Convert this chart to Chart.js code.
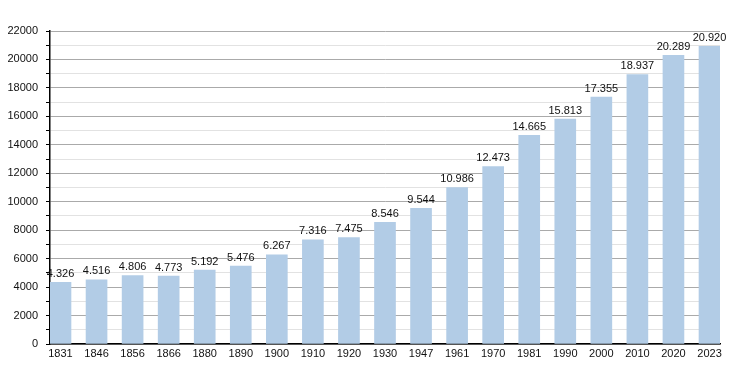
<!DOCTYPE html>
<html>
<head>
<meta charset="utf-8">
<script src="https://cdn.jsdelivr.net/npm/chart.js@4"></script>
<style>
  html, body { margin: 0; padding: 0; background: #fff; }
</style>
</head>
<body>
<canvas id="popChart" width="750" height="373"></canvas>
<script>
// anni e abitanti
const years = ["1831", "1846", "1856", "1866", "1880", "1890", "1900", "1910", "1920", "1930",
               "1947", "1961", "1970", "1981", "1990", "2000", "2010", "2020", "2023"];
const population = [4326, 4516, 4806, 4773, 5192, 5476, 6267, 7316, 7475, 8546,
                    9544, 10986, 12473, 14665, 15813, 17355, 18937, 20289, 20920];

const yMax = 22000;
const barWidth = 21;
const half = 0.291; // mezza barra in unità di categoria

// etichette con separatore delle migliaia a punto
function fmt(v) {
    return String(v).replace(/\B(?=(\d{3})+(?!\d))/g, ".");
}

const valueLabels = {
    id: "valueLabels",
    afterDatasetsDraw(chart) {
        const ctx = chart.ctx;
        const meta = chart.getDatasetMeta(0);
        ctx.save();
        ctx.font = "11px 'Liberation Sans', Arial, sans-serif";
        ctx.fillStyle = "#111";
        ctx.textAlign = "center";
        ctx.textBaseline = "bottom";
        meta.data.forEach((bar, i) => {
            ctx.fillText(fmt(population[i]), bar.x, bar.y - 3);
        });
        ctx.restore();
    }
};

const ctx = document.getElementById("popChart").getContext("2d");
new Chart(ctx, {
    type: "bar",
    data: {
        datasets: [{
            data: population.map((v, i) => ({ x: i, y: v })),
            backgroundColor: "#b2cce6",
            borderWidth: 0,
            barThickness: barWidth
        }]
    },
    plugins: [valueLabels],
    options: {
        responsive: false,
        animation: false,
        devicePixelRatio: 1,
        layout: { padding: { top: 31, right: 30, left: 0, bottom: 0 } },
        plugins: { legend: { display: false }, tooltip: { enabled: false } },
        scales: {
            x: {
                type: "linear",
                min: -half,
                max: years.length - 1 + half,
                offset: false,
                afterFit: (s) => { s.height = 29; },
                grid: { display: false, drawTicks: false },
                border: { display: true, color: "#000", width: 1.5 },
                ticks: {
                    stepSize: 1,
                    includeBounds: false,
                    autoSkip: false,
                    maxRotation: 0,
                    padding: 3,
                    color: "#111",
                    font: { family: "'Liberation Sans', Arial, sans-serif", size: 11 },
                    callback: (v) => Number.isInteger(v) ? years[v] : ""
                }
            },
            y: {
                min: 0,
                max: yMax,
                afterFit: (s) => { s.width = 50; },
                border: { display: true, color: "#000", width: 1.5 },
                grid: {
                    color: (c) => (c.tick && c.tick.value % 2000 === 0) ? "#aaaaaa" : "#e2e2e2",
                    tickColor: "#000",
                    tickLength: 4,
                    lineWidth: 1
                },
                ticks: {
                    stepSize: 1000,
                    autoSkip: false,
                    padding: 8,
                    color: "#111",
                    font: { family: "'Liberation Sans', Arial, sans-serif", size: 11 },
                    callback: (v) => v % 2000 === 0 ? String(v) : ""
                }
            }
        }
    }
});
</script>
</body>
</html>
